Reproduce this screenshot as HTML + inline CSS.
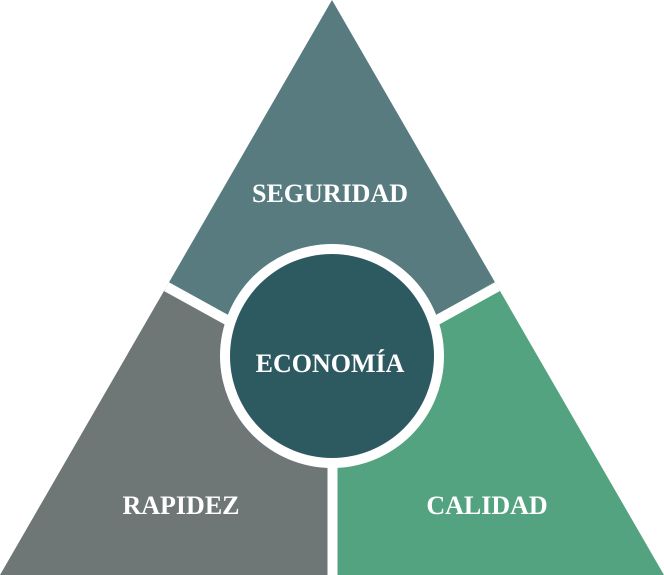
<!DOCTYPE html>
<html><head><style>html,body{margin:0;padding:0;background:#fff}svg{display:block}</style></head>
<body>
<svg width="664" height="575" viewBox="0 0 664 575" xmlns="http://www.w3.org/2000/svg">
<defs><clipPath id="t"><polygon points="332,0 664,575 0,575"/></clipPath></defs>
<g clip-path="url(#t)">
<polygon points="332,0 700,-10 700,160 332,378 -40,160 -40,-10" fill="#587b7f"/>
<polygon points="-40,160 332,378 332,600 -40,600" fill="#6e7775"/>
<polygon points="700,160 332,378 332,600 700,600" fill="#54a380"/>
<g stroke="#fff" stroke-width="10">
<line x1="332" y1="378" x2="100" y2="250"/>
<line x1="332" y1="378" x2="564" y2="250"/>
<line x1="332.5" y1="378" x2="332.5" y2="580"/>
</g>
</g>
<circle cx="332" cy="356" r="112" fill="#fff"/>
<circle cx="332" cy="356" r="102" fill="#2d5961"/>
<g fill="#fff" font-family="Liberation Serif, serif" font-weight="bold" font-size="26" text-anchor="middle" letter-spacing="0">
<text x="330" y="202">SEGURIDAD</text>
<text x="330" y="372">ECONOMÍA</text>
<text x="181" y="514">RAPIDEZ</text>
<text x="487" y="514">CALIDAD</text>
</g>
</svg>
</body></html>
